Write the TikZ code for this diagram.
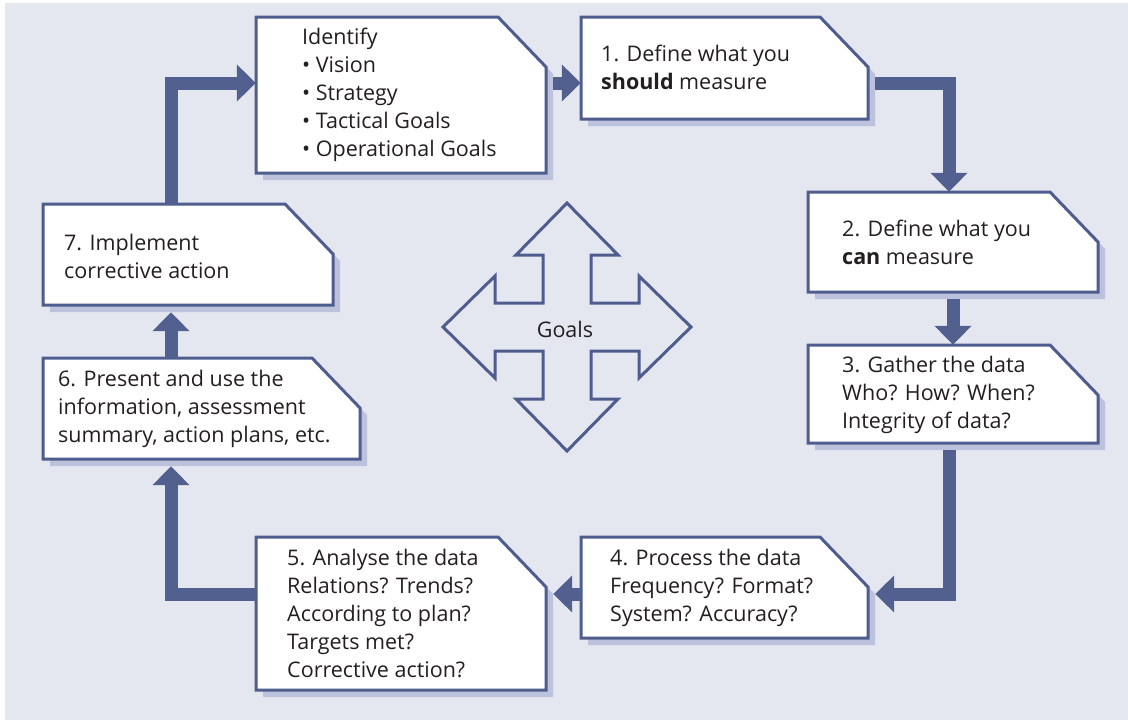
\documentclass[tikz,border=0pt]{standalone}
\usepackage{fontspec}
\setmainfont{Open Sans}
\usetikzlibrary{arrows.meta,fit,calc}
\definecolor{bgc}{HTML}{E4E7F0}
\definecolor{linec}{HTML}{4E5D8D}
\definecolor{shc}{HTML}{BCC2DB}
\definecolor{arrc}{HTML}{52608F}
\definecolor{txtc}{HTML}{231F20}
\newcommand{\cutbox}[5]{%
  \fill[shc] (#2+7,#3+7) -- (#4+7-48,#3+7) -- (#4+7,#3+7+50) -- (#4+7,#5+7) -- (#2+7,#5+7) -- cycle;
  \filldraw[fill=white,draw=linec,line width=3pt] (#2,#3) -- (#4-48,#3) -- (#4,#3+50) -- (#4,#5) -- (#2,#5) -- cycle;
  \coordinate (#1-nw) at (#2,#3);
  \coordinate (#1-se) at (#4+7,#5+7);
  \node[fit=(#1-nw)(#1-se),inner sep=0pt] (#1) {};
}
\tikzset{
  txt/.style={anchor=north west, inner sep=0pt, align=left, font=\fontsize{21.5}{28}\selectfont, text=txtc},
  flow/.style={draw=arrc, line width=13pt, line join=miter, -{Triangle[width=36pt,length=19pt]}}
}
\begin{document}
\begin{tikzpicture}[x=1pt,y=-1pt]
\useasboundingbox (0,0) rectangle (1128,720);
\fill[bgc] (5,3) rectangle (1128,720);

\cutbox{b0}{256}{17}{546}{173}
\cutbox{b1}{581}{17}{868}{119}
\cutbox{b2}{808}{192}{1098}{292}
\cutbox{b3}{808}{345}{1098}{443}
\cutbox{b4}{581}{537}{868}{638}
\cutbox{b5}{256}{537}{546}{690}
\cutbox{b6}{43}{358}{360}{459}
\cutbox{b7}{43}{204}{333}{305}

\node[txt] (t0) at (302,28) {Identify\\\textbullet\ Vision\\\textbullet\ Strategy\\\textbullet\ Tactical Goals\\\textbullet\ Operational Goals};
\node[txt] (t1) at (601,45) {1. Define what you\\\textbf{should} measure};
\node[txt] (t2) at (842,220) {2. Define what you\\\textbf{can} measure};
\node[txt] (t3) at (842,356) {3. Gather the data\\Who? How? When?\\Integrity of data?};
\node[txt] (t4) at (610,549) {4. Process the data\\Frequency? Format?\\System? Accuracy?};
\node[txt] (t5) at (287,549) {5. Analyse the data\\Relations? Trends?\\According to plan?\\Targets met?\\Corrective action?};
\node[txt] (t6) at (58,370) {6. Present and use the\\information, assessment\\summary, action plans, etc.};
\node[txt] (t7) at (64,234) {7. Implement\\corrective action};

% Goals cross
\draw[linec, line width=3pt, line join=miter]
  (567,203) -- (618,255) -- (591,255) -- (591,303) -- (639,303) -- (639,276)
  -- (691,327) -- (639,378) -- (639,351) -- (591,351) -- (591,399) -- (618,399)
  -- (567,451) -- (516,399) -- (543,399) -- (543,351) -- (495,351) -- (495,378)
  -- (443,327) -- (495,276) -- (495,303) -- (543,303) -- (543,255) -- (516,255) -- cycle;
\node[font=\fontsize{21.5}{28}\selectfont, text=txtc, inner sep=0pt] (goals) at (565,329) {Goals};

% connectors
\coordinate (rowA) at (0,83);
\coordinate (rowB) at (0,594);
\coordinate (colL) at (171,0);
\coordinate (colR) at (949,0);
\coordinate (colM) at (953,0);

\draw[flow] (colL |- b7.north) |- (b0.west |- rowA);
\draw[flow] (b0.east |- rowA) -- (b1.west |- rowA);
\draw[flow] (b1.east |- rowA) -| (colR |- b2.north);
\draw[flow] (colM |- b2.south) -- (colM |- b3.north);
\draw[flow] (colR |- b3.south) |- (b4.east |- rowB);
\draw[flow] (b4.west |- rowB) -- (b5.east |- rowB);
\draw[flow] (b5.west |- rowB) -| (colL |- b6.south);
\draw[flow] (colL |- b6.north) -- (colL |- b7.south);
\end{tikzpicture}
\end{document}
